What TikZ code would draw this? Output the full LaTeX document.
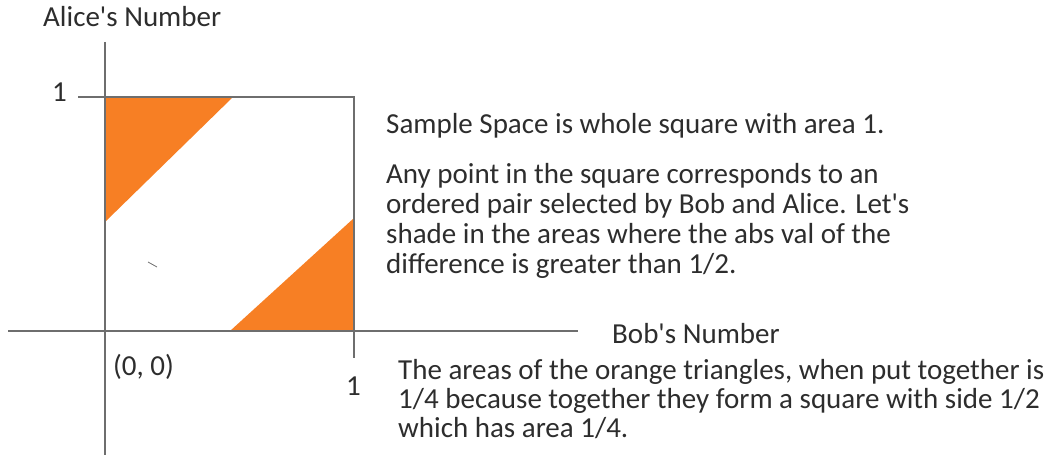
\documentclass[tikz,border=0pt]{standalone}
\usepackage{fontspec}
\setmainfont{Carlito}[Ligatures=TeXOff]
\definecolor{orng}{RGB}{247,127,36}
\definecolor{txt}{RGB}{45,45,45}
\definecolor{axis}{RGB}{110,110,110}
\begin{document}
\begin{tikzpicture}[x=1pt,y=-1pt,
  ax/.style={draw=axis,line width=1.1pt},
  lbl/.style={inner sep=0pt,anchor=base west,text=txt,font=\fontsize{29}{30}\selectfont}]
\useasboundingbox (0,0) rectangle (1049,460);
% triangles
\fill[orng] (105,97) -- (233,97) -- (105,222) -- cycle;
\fill[orng] (230,331) -- (354,331) -- (354,218) -- cycle;
% axes and square
\coordinate (vtop) at (105,42);
\coordinate (vbot) at (105,455);
\coordinate (hl) at (8,331);
\coordinate (hr) at (578,331);
\coordinate (tl) at (78,97);
\coordinate (tr) at (354,97);
\coordinate (rb) at (354,358);
\draw[ax] (vtop) -- (vbot);
\draw[ax] (hl) -- (hr);
\draw[ax] (tl) -- (tr) -- (rb);
% stray mark
\coordinate (m1) at (148,262);
\coordinate (m2) at (157,267);
\draw[axis,line width=0.8pt] (m1) -- (m2);
% labels
\node[lbl] (alice) at (43,27) {Alice's Number};
\node[lbl] (one) at (52,101) {1};
\node[lbl] (origin) at (113,375) {(0, 0)};
\node[lbl] (onex) at (346,395) {1};
\node[lbl] (bob) at (612,343) {Bob's Number};
\node[lbl] (sample) at (386,133) {Sample Space is whole square with area 1.};
\node[lbl] (p2a) at (386,183) {Any point in the square corresponds to an};
\node[lbl] (p2b) at (386,213) {ordered pair selected by Bob and Alice. Let's};
\node[lbl] (p2c) at (386,243) {shade in the areas where the abs val of the};
\node[lbl] (p2d) at (386,273) {difference is greater than 1/2.};
\node[lbl] (p3a) at (398,379) {The areas of the orange triangles, when put together is};
\node[lbl] (p3b) at (398,408) {1/4 because together they form a square with side 1/2};
\node[lbl] (p3c) at (398,437) {which has area 1/4.};
\end{tikzpicture}
\end{document}
